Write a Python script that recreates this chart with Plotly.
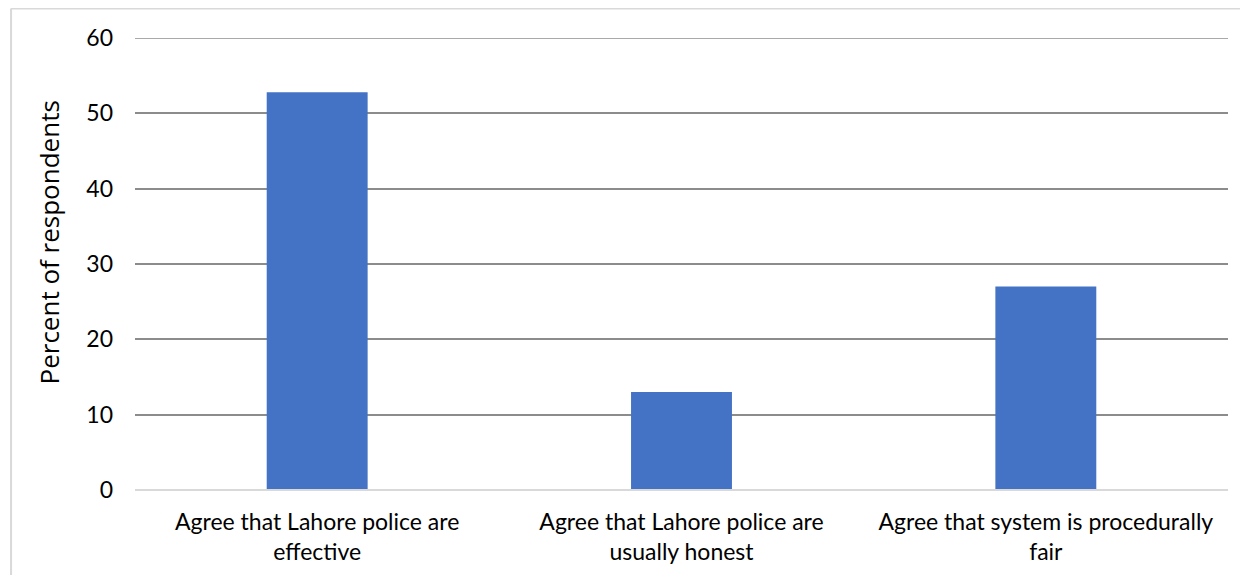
import plotly.graph_objects as go

categories = ["Agree that Lahore police are<br>effective",
              "Agree that Lahore police are<br>usually honest",
              "Agree that system is procedurally<br>fair"]
values = [52.8, 13.0, 27.0]
y_ticks = [0, 10, 20, 30, 40, 50, 60]
y_title = "Percent of respondents"

fig = go.Figure()
fig.add_trace(go.Bar(x=categories, y=values, marker=dict(color="#4472C4", line=dict(width=0)),
                     width=0.277))

grid_color = "#8c8c8c"
fig.update_layout(
    width=1240, height=567,
    margin=dict(l=127, r=20, t=30, b=85, autoexpand=False),
    paper_bgcolor="white", plot_bgcolor="white",
    font=dict(family="Lato, sans-serif", size=22, color="#000000"), showlegend=False,
    xaxis=dict(showgrid=False, showline=False, zeroline=False, ticks="",
               tickfont=dict(size=23), ticklabelstandoff=16),
    yaxis=dict(range=[0, 60], tickvals=y_ticks, showgrid=True, gridcolor=grid_color, gridwidth=1.5,
               zeroline=False, showline=False, ticks="", ticklabelstandoff=21,
               tickfont=dict(size=23)),
    annotations=[dict(text=y_title, xref="paper", yref="paper", x=-0.0778, y=0.5476,
                      xanchor="center", yanchor="middle", textangle=-90, showarrow=False,
                      font=dict(family="Open Sans, sans-serif", size=26, color="#000000"))],
    shapes=[
        dict(type="line", xref="paper", yref="y", x0=0, x1=1, y0=max(y_ticks), y1=max(y_ticks),
             line=dict(color=grid_color, width=1.5), layer="below"),
        dict(type="line", xref="paper", yref="paper", x0=0, x1=1, y0=0, y1=0,
             line=dict(color="#d9d9d9", width=2), layer="above"),
        dict(type="line", xref="paper", yref="paper", x0=-0.1134, x1=-0.1134, y0=1.0653, y1=-0.25,
             line=dict(color="#d9d9d9", width=2)),
        dict(type="line", xref="paper", yref="paper", x0=-0.1134, x1=1.05, y0=1.0653, y1=1.0653,
             line=dict(color="#d9d9d9", width=2)),
    ],
)
fig.write_html("out.html")
